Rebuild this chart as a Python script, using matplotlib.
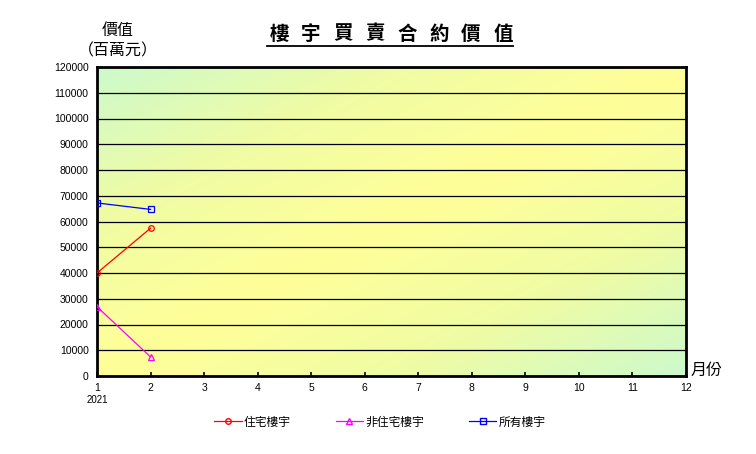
import numpy as np
import matplotlib
matplotlib.use("Agg")
import matplotlib.pyplot as plt
from matplotlib.colors import LinearSegmentedColormap
from matplotlib.lines import Line2D

plt.rcParams['font.family'] = ['Noto Sans CJK TC', 'DejaVu Sans']

# data (百萬元)
months = [1, 2]
residential = [40000, 57400]
non_residential = [26900, 7400]
all_property = [67200, 64700]
series_names = ['住宅樓宇', '非住宅樓宇', '所有樓宇']
x_ticks = list(range(1, 13))
y_ticks = list(range(0, 120001, 10000))
title_chars = list('樓宇買賣合約價值')

fig = plt.figure(figsize=(7.56, 4.54), dpi=100)
ax = fig.add_axes([97 / 756, 1 - 376 / 454, 589 / 756, 309 / 454])

# background gradient: green corners (top-left, bottom-right), yellow diagonal
gx, gy = np.meshgrid(np.linspace(0, 1, 300), np.linspace(1, 0, 200))
d = np.abs(gx - gy)
cmap = LinearSegmentedColormap.from_list('bg', ['#ffff99', '#f0fca4', '#ccfacc'])
ax.imshow(d, cmap=cmap, vmin=0, vmax=1, extent=[0, 1, 0, 1],
          transform=ax.transAxes, aspect='auto', zorder=0)

ax.plot(months, residential, color='red', lw=0.9, marker='o', ms=4,
        mfc='none', mec='red', mew=0.9, zorder=3)
ax.plot(months, non_residential, color='magenta', lw=0.9, marker='^', ms=4,
        mfc='none', mec='magenta', mew=0.9, zorder=3)
ax.plot(months, all_property, color='blue', lw=0.9, marker='s', ms=4,
        mfc='none', mec='blue', mew=0.9, zorder=3)

ax.set_xlim(1, 12)
ax.set_ylim(0, 120000)
ax.set_xticks(x_ticks)
ax.set_yticks(y_ticks)
ax.set_xticklabels([str(v) for v in x_ticks], family='Liberation Sans', fontsize=7.5)
ax.set_yticklabels([str(v) for v in y_ticks], family='Liberation Sans', fontsize=7.5)
ax.tick_params(axis='x', direction='in', length=3, width=1.2, pad=5)
ax.tick_params(axis='y', length=0, pad=6)
ax.grid(axis='y', color='black', lw=0.9)
ax.set_axisbelow(False)
for s in ax.spines.values():
    s.set_linewidth(2)

ax.text(0, -0.062, '2021', transform=ax.transAxes, ha='center', va='top',
        family='Liberation Sans', fontsize=7)

fig.text(118 / 756, 1 - 30 / 454, '價值', ha='center', va='center', fontsize=11.5)
fig.text(118 / 756, 1 - 51 / 454, '（百萬元）', ha='center', va='center', fontsize=11.5)
fig.text(707 / 756, 1 - 370 / 454, '月份', ha='center', va='center', fontsize=11.5)

# spaced, underlined title
for i, ch in enumerate(title_chars):
    fig.text((279 + i * 32) / 756, 1 - 34 / 454, ch, ha='center', va='center',
             fontsize=14, fontweight='bold')
fig.add_artist(Line2D([267 / 756, 513 / 756], [1 - 46 / 454, 1 - 46 / 454],
                      color='black', lw=1.3))

handles = [
    Line2D([], [], color='red', lw=0.9, marker='o', ms=4, mfc='none', mec='red'),
    Line2D([], [], color='magenta', lw=0.9, marker='^', ms=4, mfc='none', mec='magenta'),
    Line2D([], [], color='blue', lw=0.9, marker='s', ms=4, mfc='none', mec='blue'),
]
fig.legend(handles, series_names, loc='center', bbox_to_anchor=(380 / 756, 1 - 422 / 454),
           ncol=3, frameon=False, fontsize=8.5, handlelength=2.3, handletextpad=0.2,
           columnspacing=3.8)

fig.savefig('out.png', dpi=100)
